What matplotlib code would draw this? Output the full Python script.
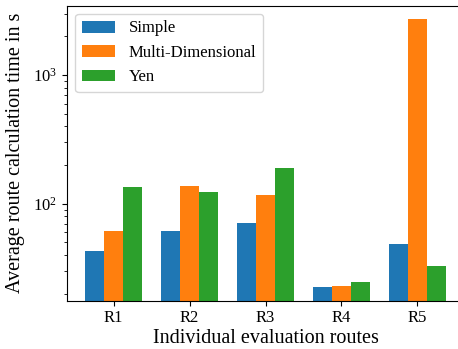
import numpy as np
import matplotlib
matplotlib.use('Agg')
import matplotlib.pyplot as plt

plt.rcParams['font.family'] = 'serif'
plt.rcParams['font.serif'] = ['Liberation Serif', 'DejaVu Serif']
plt.rcParams['mathtext.fontset'] = 'stix'

# Average calculation time per route (s)
routes = ['R1', 'R2', 'R3', 'R4', 'R5']
simple = [43.2, 60.8, 70.6, 22.4, 48.2]
multi_dim = [60.8, 137.0, 116.7, 23.1, 2730.0]
yen = [134.0, 122.5, 188.0, 24.8, 33.0]

x = np.arange(len(routes))
width = 0.25

fig = plt.figure(figsize=(4.58, 3.49), dpi=100)
ax = fig.add_axes([67/458, 48.3/349, 397/458, 295.2/349])

ax.bar(x - width, simple, width, label='Simple', color='#1f77b4')
ax.bar(x, multi_dim, width, label='Multi-Dimensional', color='#ff7f0e')
ax.bar(x + width, yen, width, label='Yen', color='#2ca02c')

ax.set_yscale('log')
ax.set_xticks(x)
ax.set_xticklabels(routes, fontsize=12)
ax.tick_params(axis='x', pad=3)
ax.tick_params(axis='y', labelsize=12)
ax.set_xlabel('Individual evaluation routes', fontsize=14.5, labelpad=2.5)
ax.set_ylabel('Average route calculation time in s', fontsize=14.5)
ax.yaxis.set_label_coords(-0.105, 0.5)
ax.legend(loc='upper left', fontsize=12)

fig.savefig('out.png', dpi=100)
